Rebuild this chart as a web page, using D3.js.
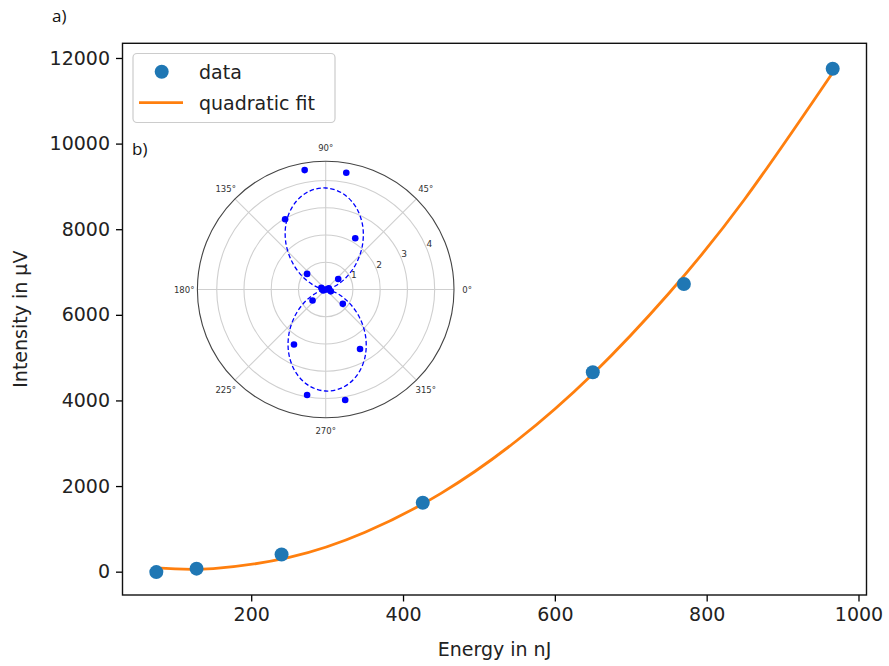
<!DOCTYPE html>
<html>
<head>
<meta charset="utf-8">
<script src="https://cdn.jsdelivr.net/npm/d3@7"></script>
<style>
  html, body { margin: 0; padding: 0; background: #ffffff; }
  svg { display: block; }
</style>
</head>
<body>
<svg id="chart" width="889" height="666"></svg>
<script>
// ---- main chart data ----
const energy = [75, 128, 240, 426, 650, 770, 966];
const intensity = [-10, 70, 400, 1610, 4660, 6720, 11750];
const fitEnergy = [75, 100, 150, 250, 350, 450, 550, 650, 750, 850, 966];
const fitIntensity = [90, 65, 72, 333, 920, 1830, 3064, 4619, 6498, 8700, 11658];
const xTicks = [200, 400, 600, 800, 1000];
const yTicks = [0, 2000, 4000, 6000, 8000, 10000, 12000];
const legendLabels = ["data", "quadratic fit"];

// ---- polar inset data ----
const polarAngles = [0, 20, 40, 60, 80, 100, 120, 140, 160, 180, 200, 220, 240, 260, 280, 300, 320, 340];
const polarValues = [0.05, 0.12, 0.60, 2.17, 4.35, 4.45, 2.98, 0.89, 0.17, 0.03, 0.10, 0.63, 2.33, 3.93, 4.12, 2.52, 0.82, 0.20];
const fitAngles = [0, 10, 20, 30, 40, 50, 60, 70, 80, 90, 100, 110, 120, 130, 140, 150, 160, 170,
                   180, 190, 200, 210, 220, 230, 240, 250, 260, 270, 280, 290, 300, 310, 320, 330, 340, 350];
const fitValues = [0.003, 0.081, 0.376, 0.849, 1.445, 2.092, 2.712, 3.229, 3.581, 3.727, 3.649, 3.354, 2.881, 2.285, 1.638, 1.018, 0.501, 0.148,
                   0.003, 0.081, 0.376, 0.849, 1.445, 2.092, 2.712, 3.229, 3.581, 3.727, 3.649, 3.354, 2.881, 2.285, 1.638, 1.018, 0.501, 0.148];
const angleTicks = [0, 45, 90, 135, 180, 225, 270, 315];
const radialTicks = [1, 2, 3, 4];

const svg = d3.select("#chart");
const FONT = "DejaVu Sans, sans-serif";

// ---- main axes ----
const L = 122.5, R = 866.5, T = 43.3, B = 595;
const x = d3.scaleLinear().domain([30.45, 1010.55]).range([L, R]);
const y = d3.scaleLinear().domain([-545, 12343]).range([B, T]);

// x axis
const xAxis = d3.axisBottom(x).tickValues(xTicks).tickSize(6.5).tickPadding(6).tickFormat(d3.format("d"));
const gx = svg.append("g").attr("transform", `translate(0,${B})`).call(xAxis);
gx.select(".domain").remove();
gx.selectAll(".tick line").attr("stroke", "#000").attr("stroke-width", 1.3);
gx.selectAll(".tick text").attr("font-family", FONT).attr("font-size", 19).attr("fill", "#222");

// y axis
const yAxis = d3.axisLeft(y).tickValues(yTicks).tickSize(6.5).tickPadding(6).tickFormat(d3.format("d"));
const gy = svg.append("g").attr("transform", `translate(${L},0)`).call(yAxis);
gy.select(".domain").remove();
gy.selectAll(".tick line").attr("stroke", "#000").attr("stroke-width", 1.3);
gy.selectAll(".tick text").attr("font-family", FONT).attr("font-size", 19).attr("fill", "#222");

// frame
svg.append("rect").attr("x", L).attr("y", T).attr("width", R - L).attr("height", B - T)
  .attr("fill", "none").attr("stroke", "#111").attr("stroke-width", 1.4);

// axis labels
svg.append("text").attr("x", (L + R) / 2).attr("y", 656).attr("text-anchor", "middle")
  .attr("font-family", FONT).attr("font-size", 19).attr("fill", "#222").text("Energy in nJ");
svg.append("text").attr("transform", `translate(27,${(T + B) / 2}) rotate(-90)`).attr("text-anchor", "middle")
  .attr("font-family", FONT).attr("font-size", 19).attr("fill", "#222").text("Intensity in µV");

// fit line
const fitData = fitEnergy.map((e, i) => ({ e, v: fitIntensity[i] }));
svg.append("path").datum(fitData)
  .attr("d", d3.line().x(d => x(d.e)).y(d => y(d.v)).curve(d3.curveNatural))
  .attr("fill", "none").attr("stroke", "#ff7f0e").attr("stroke-width", 2.8);

// data points
const pts = energy.map((e, i) => ({ e, v: intensity[i] }));
svg.append("g").selectAll("circle").data(pts).join("circle")
  .attr("cx", d => x(d.e)).attr("cy", d => y(d.v)).attr("r", 7)
  .attr("fill", "#1f77b4");

// legend
const lg = svg.append("g");
lg.append("rect").attr("x", 133).attr("y", 53.5).attr("width", 202).attr("height", 69)
  .attr("rx", 4).attr("fill", "#fff").attr("fill-opacity", 0.8).attr("stroke", "#cccccc").attr("stroke-width", 1.2);
lg.append("circle").attr("cx", 161.7).attr("cy", 71.7).attr("r", 7).attr("fill", "#1f77b4");
lg.append("line").attr("x1", 139).attr("x2", 183).attr("y1", 102.7).attr("y2", 102.7)
  .attr("stroke", "#ff7f0e").attr("stroke-width", 2.8);
lg.selectAll("text").data(legendLabels).join("text")
  .attr("x", 199).attr("y", (d, i) => 78.5 + i * 31)
  .attr("font-family", FONT).attr("font-size", 19).attr("fill", "#222").text(d => d);

// panel labels
svg.append("text").attr("x", 52).attr("y", 22).attr("font-family", "Open Sans, sans-serif")
  .attr("font-size", 17).attr("fill", "#111").text("a)");
svg.append("text").attr("x", 132).attr("y", 155).attr("font-family", "Open Sans, sans-serif")
  .attr("font-size", 17).attr("fill", "#111").text("b)");

// ---- polar inset ----
const cx = 325.7, cy = 289.5, Rmax = 128.3;
const r = d3.scaleLinear().domain([0, 4.71]).range([0, Rmax]);
const rad = a => a * Math.PI / 180;
const pg = svg.append("g").attr("transform", `translate(${cx},${cy})`);

pg.append("circle").attr("r", Rmax).attr("fill", "#fff");
// grid circles
pg.selectAll("circle.grid").data(radialTicks).join("circle").attr("class", "grid")
  .attr("r", d => r(d)).attr("fill", "none").attr("stroke", "#cfcfcf").attr("stroke-width", 1.1);
// spokes
pg.selectAll("line.spoke").data(angleTicks).join("line").attr("class", "spoke")
  .attr("x1", 0).attr("y1", 0)
  .attr("x2", d => Rmax * Math.cos(rad(d))).attr("y2", d => -Rmax * Math.sin(rad(d)))
  .attr("stroke", "#cfcfcf").attr("stroke-width", 1.1);
// outer circle
pg.append("circle").attr("r", Rmax).attr("fill", "none").attr("stroke", "#444").attr("stroke-width", 1.1);

// angle labels
pg.selectAll("text.ang").data(angleTicks).join("text").attr("class", "ang")
  .attr("x", d => 141.5 * Math.cos(rad(d))).attr("y", d => -141.5 * Math.sin(rad(d)))
  .attr("text-anchor", "middle").attr("dominant-baseline", "central")
  .attr("font-family", FONT).attr("font-size", 8.5).attr("fill", "#333").text(d => d + "°");
// radial labels
pg.selectAll("text.rl").data(radialTicks).join("text").attr("class", "rl")
  .attr("x", d => r(d) * Math.cos(rad(22.5)) + 3).attr("y", d => -r(d) * Math.sin(rad(22.5)) - 4)
  .attr("text-anchor", "middle").attr("dominant-baseline", "central")
  .attr("font-family", FONT).attr("font-size", 9).attr("fill", "#333").text(d => d);

// fit curve (dashed)
const fitPolar = fitAngles.map((a, i) => ({ a, v: fitValues[i] }));
pg.append("path").datum(fitPolar)
  .attr("d", d3.lineRadial().angle(d => rad(90 - d.a)).radius(d => r(d.v)).curve(d3.curveCatmullRomClosed))
  .attr("fill", "none").attr("stroke", "#0000ff").attr("stroke-width", 1.3).attr("stroke-dasharray", "4.5,2.5");

// polar data points
const polPts = polarAngles.map((a, i) => ({ a, v: polarValues[i] }));
pg.selectAll("circle.pt").data(polPts).join("circle").attr("class", "pt")
  .attr("cx", d => r(d.v) * Math.cos(rad(d.a))).attr("cy", d => -r(d.v) * Math.sin(rad(d.a)))
  .attr("r", 3.3).attr("fill", "#0000ff");
</script>
</body>
</html>
